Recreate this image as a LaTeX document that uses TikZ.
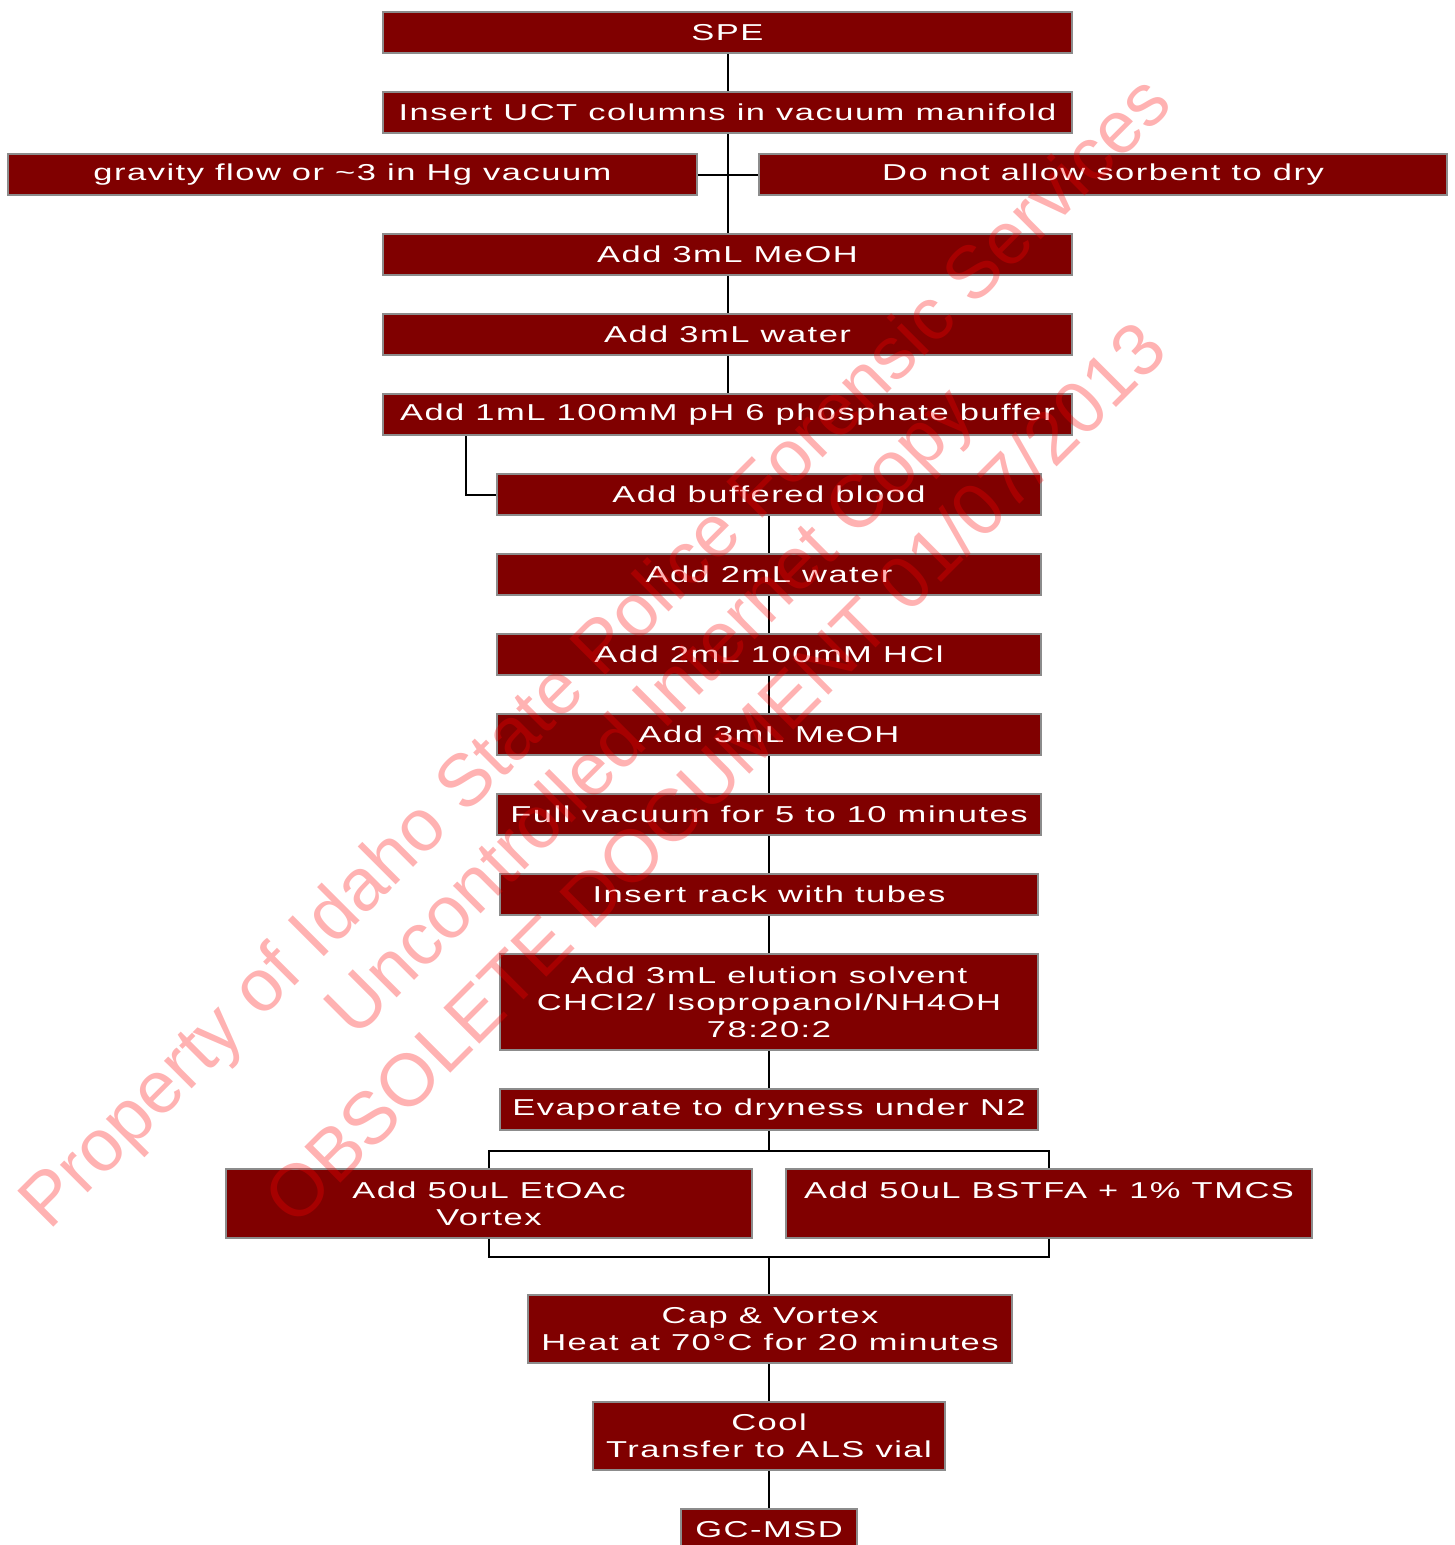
\documentclass[tikz,border=0pt]{standalone}
\usepackage{fontspec}
\setmainfont{Liberation Sans}
\newfontfamily\boxfont{Liberation Sans}[FakeStretch=1.5,LetterSpace=6.5]
\newfontfamily\wmfont{Liberation Sans}
\usetikzlibrary{calc}
\definecolor{boxred}{RGB}{128,0,0}
\definecolor{boxedge}{RGB}{140,140,140}
\tikzset{
  stepbox/.style={draw=boxedge, line width=2pt, fill=boxred, text=white,
    inner sep=0pt, align=center, font=\boxfont\fontsize{23}{27}\selectfont},
  wideb/.style={minimum width=689pt, minimum height=41pt},
  midb/.style={minimum width=544pt, minimum height=41pt},
  narb/.style={minimum width=538pt, minimum height=41pt},
  conn/.style={draw=black, line width=2pt},
  wm/.style={text=red, text opacity=0.3, font=\wmfont\fontsize{74}{80}\selectfont,
    rotate=45, anchor=base, inner sep=0pt}
}
\begin{document}
\begin{tikzpicture}[x=1pt, y=-1pt]
\useasboundingbox (0,0) rectangle (1454,1545);
\fill[white] (0,0) rectangle (1454,1545);

% boxes
\node[stepbox, wideb] (spe) at (727.5,32.5) {SPE};
\node[stepbox, wideb] (insert) at (727.5,112.5) {Insert UCT columns in vacuum manifold};
\node[stepbox, minimum width=689pt, minimum height=41pt] (grav) at (352.5,174.5) {gravity flow or \textasciitilde3 in Hg vacuum};
\node[stepbox, minimum width=688pt, minimum height=41pt] (dry) at (1103,174.5) {Do not allow sorbent to dry};
\node[stepbox, wideb] (meoha) at (727.5,254.5) {Add 3mL MeOH};
\node[stepbox, wideb] (watera) at (727.5,334.5) {Add 3mL water};
\node[stepbox, wideb] (buffer) at (727.5,414.5) {Add 1mL 100mM pH 6 phosphate buffer};
\node[stepbox, midb] (blood) at (769,494.5) {Add buffered blood};
\node[stepbox, midb] (waterb) at (769,574.5) {Add 2mL water};
\node[stepbox, midb] (hcl) at (769,654.5) {Add 2mL 100mM HCl};
\node[stepbox, midb] (meohb) at (769,734.5) {Add 3mL MeOH};
\node[stepbox, midb] (fullvac) at (769,814.5) {Full vacuum for 5 to 10 minutes};
\node[stepbox, narb] (rack) at (769,894.5) {Insert rack with tubes};
\node[stepbox, minimum width=538pt, minimum height=96pt] (elution) at (769,1002) {Add 3mL elution solvent\\CHCl2/ Isopropanol/NH4OH\\78:20:2};
\node[stepbox, narb] (evap) at (769,1109.5) {Evaporate to dryness under N2};
\node[stepbox, minimum width=526pt, minimum height=69pt] (etoac) at (489,1203.5) {Add 50uL EtOAc\\Vortex};
\node[stepbox, minimum width=526pt, minimum height=69pt] (bstfa) at (1049,1203.5) {Add 50uL BSTFA + 1\% TMCS\\\phantom{Vortex}};
\node[stepbox, minimum width=484pt, minimum height=68pt] (cap) at (770,1329) {Cap \& Vortex\\Heat at 70°C for 20 minutes};
\node[stepbox, minimum width=352pt, minimum height=68pt] (cool) at (769,1436) {Cool\\Transfer to ALS vial};
\node[stepbox, minimum width=176pt, minimum height=41pt] (gcmsd) at (769,1529.5) {GC-MSD};

% connectors
\draw[conn] (spe.south) -- (insert.north);
\draw[conn] (insert.south) -- (meoha.north);
\draw[conn] (grav.east) -- (dry.west);
\draw[conn] (meoha.south) -- (watera.north);
\draw[conn] (watera.south) -- (buffer.north);
\draw[conn] ($(buffer.south west)+(84,0)$) |- (blood.west);
\draw[conn] (blood.south) -- (waterb.north);
\draw[conn] (waterb.south) -- (hcl.north);
\draw[conn] (hcl.south) -- (meohb.north);
\draw[conn] (meohb.south) -- (fullvac.north);
\draw[conn] (fullvac.south) -- (rack.north);
\draw[conn] (rack.south) -- (elution.north);
\draw[conn] (elution.south) -- (evap.north);
\coordinate (split) at ($(evap.south)+(0,20)$);
\draw[conn] (evap.south) -- (split);
\draw[conn] (etoac.north) |- (split) -| (bstfa.north);
\coordinate (join) at (769,1257);
\draw[conn] (etoac.south) |- (join) -| (bstfa.south);
\draw[conn] (join) -- (join |- cap.north);
\draw[conn] (cap.south -| cool.north) -- (cool.north);
\draw[conn] (cool.south) -- (gcmsd.north);

% watermark
\node[wm] (wma) at (612,669) {Property of Idaho State Police Forensic Services};
\node[wm] (wmb) at (667,728) {Uncontrolled Internet Copy};
\node[wm] (wmc) at (733,791) {OBSOLETE DOCUMENT 01/07/2013};
\end{tikzpicture}
\end{document}
